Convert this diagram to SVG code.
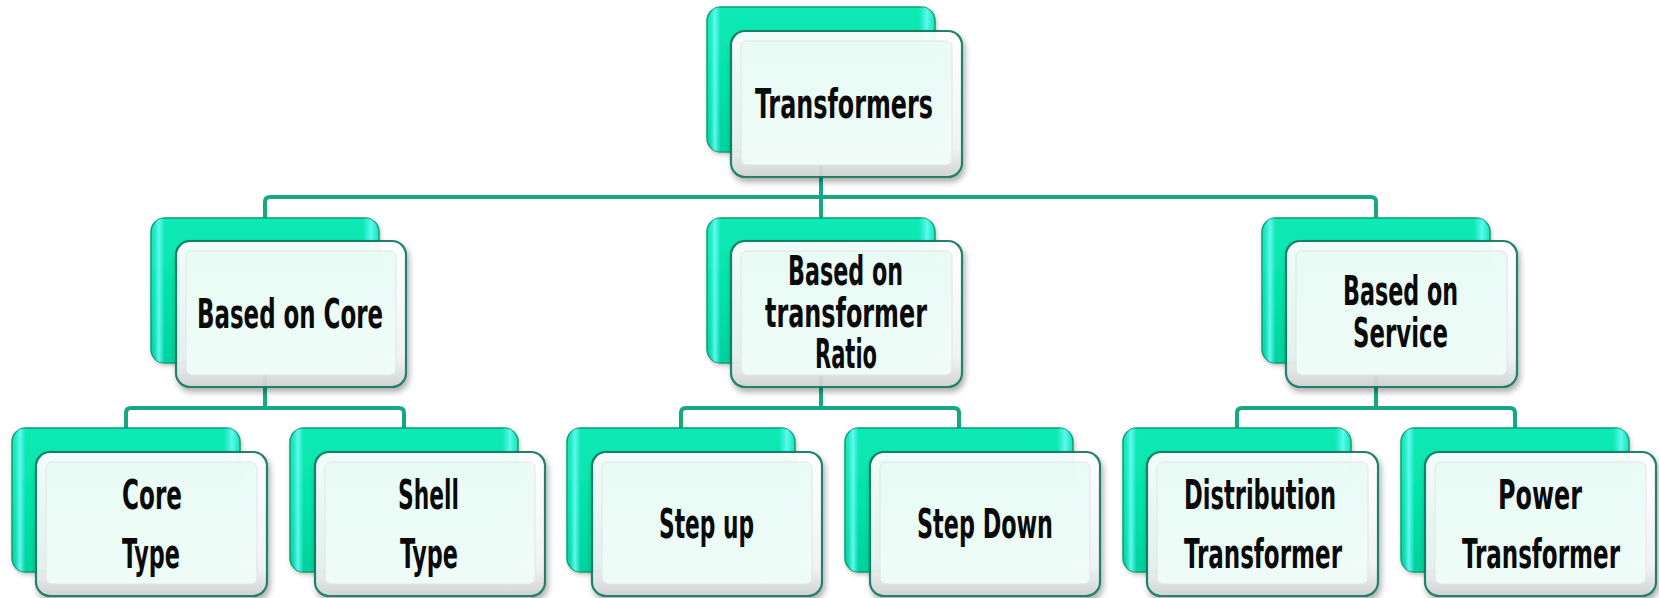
<svg xmlns="http://www.w3.org/2000/svg" width="1659" height="598" viewBox="0 0 1659 598">
<defs>
<linearGradient id="gBack" x1="0" y1="0" x2="0" y2="1">
<stop offset="0" stop-color="#10eab6"/>
<stop offset="0.5" stop-color="#03e3a9"/>
<stop offset="1" stop-color="#00d29c"/>
</linearGradient>
<linearGradient id="gBackSide" x1="0" y1="0" x2="1" y2="0">
<stop offset="0" stop-color="#5cf6f0" stop-opacity="0"/>
<stop offset="0.015" stop-color="#5cf6f0" stop-opacity="0.2"/>
<stop offset="0.035" stop-color="#66faf4" stop-opacity="0.95"/>
<stop offset="0.06" stop-color="#5cf6f0" stop-opacity="0"/>
<stop offset="0.93" stop-color="#5cf6f0" stop-opacity="0"/>
<stop offset="0.965" stop-color="#66faf4" stop-opacity="0.9"/>
<stop offset="1" stop-color="#5cf6f0" stop-opacity="0"/>
</linearGradient>
<linearGradient id="gFrontEdge" x1="0" y1="0" x2="0" y2="1">
<stop offset="0" stop-color="#ffffff"/>
<stop offset="0.8" stop-color="#f1f3f2"/>
<stop offset="1" stop-color="#cdd2d0"/>
</linearGradient>
<linearGradient id="gFrontFace" x1="0" y1="0" x2="0" y2="1">
<stop offset="0" stop-color="#e9fbf5"/>
<stop offset="1" stop-color="#f0fdf9"/>
</linearGradient>
<filter id="shadow" x="-10%" y="-10%" width="125%" height="130%">
<feDropShadow dx="2" dy="4" stdDeviation="3" flood-color="#000" flood-opacity="0.35"/>
</filter>
<filter id="shadowB" x="-10%" y="-10%" width="125%" height="130%">
<feDropShadow dx="1" dy="2" stdDeviation="2" flood-color="#000" flood-opacity="0.25"/>
</filter>
</defs>
<style>
.conn{fill:none;stroke:#18a786;stroke-width:4;stroke-linejoin:round}
.back{fill:url(#gBack);stroke:#0b9c76;stroke-width:1.5;filter:url(#shadowB)}
.backside{fill:url(#gBackSide);stroke:none}
.front{fill:url(#gFrontEdge);stroke:#137a62;stroke-width:2.2;filter:url(#shadow);opacity:0.94}
.face{fill:url(#gFrontFace);stroke:#e0e4e2;stroke-width:1;opacity:0.94}
.t{font-family:"Liberation Sans Narrow","DejaVu Sans Condensed","Liberation Sans",sans-serif;font-weight:bold;font-size:40px;fill:#0a0a0a}
</style>

<g id="connectors">
<path class="conn" d="M821,150 V218"/>
<path class="conn" d="M265,218 V202 Q265,197 270,197 H1371 Q1376,197 1376,202 V218"/>
<path class="conn" d="M265,360 V408"/>
<path class="conn" d="M126,428 V413 Q126,408 131,408 H399 Q404,408 404,413 V428"/>
<path class="conn" d="M821,360 V408"/>
<path class="conn" d="M681,428 V413 Q681,408 686,408 H954 Q959,408 959,413 V428"/>
<path class="conn" d="M1376,360 V408"/>
<path class="conn" d="M1237,428 V413 Q1237,408 1242,408 H1510 Q1515,408 1515,413 V428"/>
</g>

<g id="n-transformers">
<rect class="back" x="707" y="7" width="228" height="145" rx="14"/>
<rect class="backside" x="707" y="7" width="228" height="145" rx="14"/>
<rect class="front" x="731" y="31" width="231" height="146" rx="14"/>
<rect class="face" x="741" y="41" width="211" height="124" rx="6"/>
<text class="t" x="755" y="118" textLength="178" lengthAdjust="spacingAndGlyphs">Transformers</text>
</g>

<g id="n-core">
<rect class="back" x="151" y="218" width="228" height="145" rx="14"/>
<rect class="backside" x="151" y="218" width="228" height="145" rx="14"/>
<rect class="front" x="176" y="241" width="230" height="146" rx="14"/>
<rect class="face" x="186" y="251" width="210" height="124" rx="6"/>
<text class="t" x="197" y="328" textLength="186" lengthAdjust="spacingAndGlyphs">Based on Core</text>
</g>

<g id="n-ratio">
<rect class="back" x="707" y="218" width="228" height="145" rx="14"/>
<rect class="backside" x="707" y="218" width="228" height="145" rx="14"/>
<rect class="front" x="731" y="241" width="231" height="146" rx="14"/>
<rect class="face" x="741" y="251" width="211" height="124" rx="6"/>
<text class="t" x="788" y="285" textLength="115" lengthAdjust="spacingAndGlyphs">Based on</text>
<text class="t" x="765" y="327" textLength="162" lengthAdjust="spacingAndGlyphs">transformer</text>
<text class="t" x="815" y="368" textLength="62" lengthAdjust="spacingAndGlyphs">Ratio</text>
</g>

<g id="n-service">
<rect class="back" x="1262" y="218" width="228" height="145" rx="14"/>
<rect class="backside" x="1262" y="218" width="228" height="145" rx="14"/>
<rect class="front" x="1286" y="241" width="231" height="146" rx="14"/>
<rect class="face" x="1296" y="251" width="211" height="124" rx="6"/>
<text class="t" x="1343" y="305" textLength="115" lengthAdjust="spacingAndGlyphs">Based on</text>
<text class="t" x="1353" y="347" textLength="95" lengthAdjust="spacingAndGlyphs">Service</text>
</g>

<g id="n-coretype">
<rect class="back" x="12" y="428" width="228" height="144" rx="14"/>
<rect class="backside" x="12" y="428" width="228" height="144" rx="14"/>
<rect class="front" x="36" y="452" width="231" height="144" rx="14"/>
<rect class="face" x="46" y="462" width="211" height="122" rx="6"/>
<text class="t" x="122" y="509" textLength="60" lengthAdjust="spacingAndGlyphs">Core</text>
<text class="t" x="122" y="568" textLength="58" lengthAdjust="spacingAndGlyphs">Type</text>
</g>

<g id="n-shelltype">
<rect class="back" x="290" y="428" width="228" height="144" rx="14"/>
<rect class="backside" x="290" y="428" width="228" height="144" rx="14"/>
<rect class="front" x="315" y="452" width="230" height="144" rx="14"/>
<rect class="face" x="325" y="462" width="210" height="122" rx="6"/>
<text class="t" x="398" y="509" textLength="61" lengthAdjust="spacingAndGlyphs">Shell</text>
<text class="t" x="400" y="568" textLength="58" lengthAdjust="spacingAndGlyphs">Type</text>
</g>

<g id="n-stepup">
<rect class="back" x="567" y="428" width="228" height="144" rx="14"/>
<rect class="backside" x="567" y="428" width="228" height="144" rx="14"/>
<rect class="front" x="592" y="452" width="230" height="144" rx="14"/>
<rect class="face" x="602" y="462" width="210" height="122" rx="6"/>
<text class="t" x="659" y="538" textLength="95" lengthAdjust="spacingAndGlyphs">Step up</text>
</g>

<g id="n-stepdown">
<rect class="back" x="845" y="428" width="228" height="144" rx="14"/>
<rect class="backside" x="845" y="428" width="228" height="144" rx="14"/>
<rect class="front" x="870" y="452" width="230" height="144" rx="14"/>
<rect class="face" x="880" y="462" width="210" height="122" rx="6"/>
<text class="t" x="917" y="538" textLength="136" lengthAdjust="spacingAndGlyphs">Step Down</text>
</g>

<g id="n-distribution">
<rect class="back" x="1123" y="428" width="228" height="144" rx="14"/>
<rect class="backside" x="1123" y="428" width="228" height="144" rx="14"/>
<rect class="front" x="1147" y="452" width="231" height="144" rx="14"/>
<rect class="face" x="1157" y="462" width="211" height="122" rx="6"/>
<text class="t" x="1184" y="509" textLength="152" lengthAdjust="spacingAndGlyphs">Distribution</text>
<text class="t" x="1184" y="568" textLength="158" lengthAdjust="spacingAndGlyphs">Transformer</text>
</g>

<g id="n-power">
<rect class="back" x="1401" y="428" width="228" height="144" rx="14"/>
<rect class="backside" x="1401" y="428" width="228" height="144" rx="14"/>
<rect class="front" x="1425" y="452" width="231" height="144" rx="14"/>
<rect class="face" x="1435" y="462" width="211" height="122" rx="6"/>
<text class="t" x="1498" y="509" textLength="84" lengthAdjust="spacingAndGlyphs">Power</text>
<text class="t" x="1462" y="568" textLength="158" lengthAdjust="spacingAndGlyphs">Transformer</text>
</g>
</svg>
